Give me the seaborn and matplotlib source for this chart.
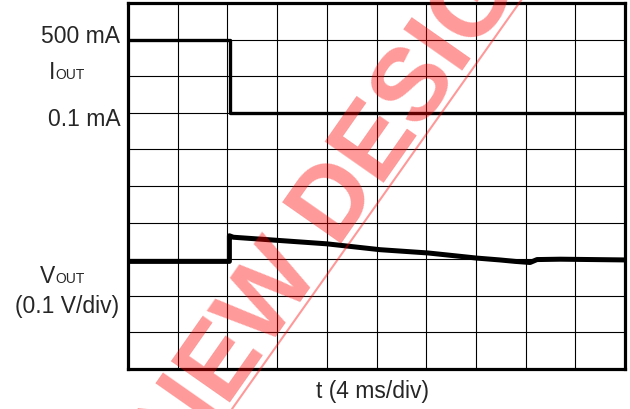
"""Load transient: IOUT step 500 mA -> 0.1 mA and VOUT response (scope capture)"""
import matplotlib
matplotlib.use('Agg')
import matplotlib.pyplot as plt
from matplotlib.lines import Line2D
import seaborn as sns

sns.set_theme(style="white")
plt.rcParams['font.family'] = ['Liberation Sans', 'DejaVu Sans']

# scope divisions: 10 x 10 grid, time in div (4 ms/div), levels in div
iout_t = [0, 2.05, 2.05, 10]
iout_div = [9, 9, 7, 7]

vout_t = [0, 2.04, 2.04, 2.12, 3.06, 4.0, 5.07, 6.04, 7.02, 7.48, 7.79, 8.09, 8.23, 8.7, 10]
vout_div = [2.94, 2.94, 3.64, 3.60, 3.51, 3.42, 3.26, 3.17, 3.03, 2.98, 2.94, 2.91, 2.99, 3.0, 2.98]

fig = plt.figure(figsize=(6.3, 4.1), dpi=100)
ax = fig.add_axes([128 / 630, 1 - 370 / 410, 497 / 630, 366 / 410])

# ============================================================
# grid + traces
# ============================================================
for k in range(1, 10):
    ax.axvline(k, color='black', lw=0.8, zorder=1)
    ax.axhline(k, color='black', lw=0.8, zorder=1)

sns.lineplot(x=iout_t, y=iout_div, ax=ax, color='black', lw=2.4,
             sort=False, estimator=None, zorder=3)
sns.lineplot(x=vout_t, y=vout_div, ax=ax, color='black', lw=3.6,
             sort=False, estimator=None, zorder=3)

ax.set_xlim(0, 10)
ax.set_ylim(0, 10)
ax.set_xticks([])
ax.set_yticks([])
for sp in ax.spines.values():
    sp.set_color('black')
    sp.set_linewidth(2.3)

# ============================================================
# labels
# ============================================================
fs = 16.5
fs_sub = 10
fig.text(120.5 / 630, 1 - 42.7 / 410, '500 mA', ha='right', va='baseline', fontsize=fs)
fig.text(120.5 / 630, 1 - 126 / 410, '0.1 mA', ha='right', va='baseline', fontsize=fs)
fig.text(55 / 630, 1 - 79 / 410, 'I', ha='right', va='baseline', fontsize=fs)
fig.text(55 / 630, 1 - 79 / 410, 'OUT', ha='left', va='baseline', fontsize=fs_sub)
fig.text(55 / 630, 1 - 283 / 410, 'V', ha='right', va='baseline', fontsize=fs)
fig.text(55 / 630, 1 - 283 / 410, 'OUT', ha='left', va='baseline', fontsize=fs_sub)
fig.text(67.5 / 630, 1 - 313 / 410, '(0.1 V/div)', ha='center', va='baseline', fontsize=fs)
fig.text(372.5 / 630, 1 - 398 / 410, 't (4 ms/div)', ha='center', va='baseline', fontsize=fs)

# watermark
fig.text(374 / 630, 1 - 197 / 410, 'NEW DESIGN', rotation=55, rotation_mode='anchor',
         ha='center', va='baseline', fontsize=74, fontweight='bold',
         color='red', alpha=0.4, zorder=10)
fig.add_artist(Line2D([232 / 630, 522 / 630], [0, 1], transform=fig.transFigure,
                      color='red', alpha=0.4, lw=1.5, zorder=10))

fig.savefig('out.png', dpi=100)
plt.close(fig)
